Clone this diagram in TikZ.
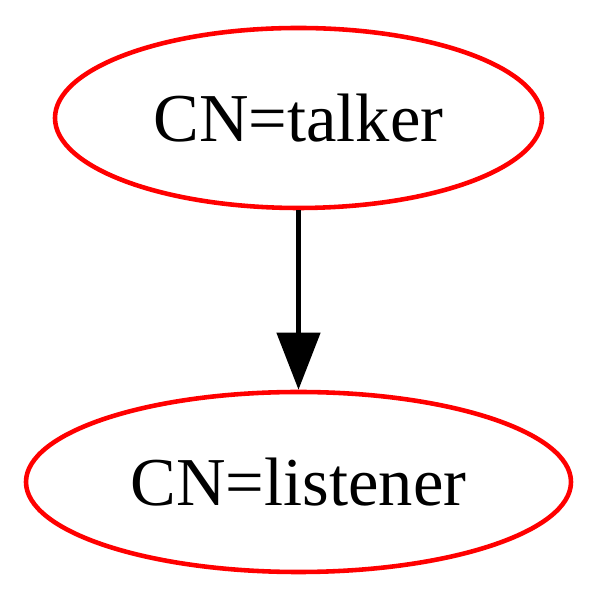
\documentclass[tikz,border=0pt]{standalone}
\usepackage{fontspec}
\setmainfont{Liberation Serif}
\usepackage{tikz}
\usetikzlibrary{arrows.meta, positioning, shapes.geometric}
\tikzset{
  cnnode/.style = {ellipse, draw=red, line width=2.6pt, inner sep=0pt,
                   minimum height=3.6cm, font=\fontsize{39}{44}\selectfont},
  arr/.style    = {-{Triangle[length=1.14cm, width=0.86cm]}, line width=2.6pt},
}
\begin{document}
\begin{tikzpicture}
  \useasboundingbox (0,0) rectangle (11.96,11.96);
  \node[cnnode, minimum width=9.74cm]  (talker)   at (5.97,9.6)  {CN=talker};
  \node[cnnode, minimum width=10.9cm]  (listener) at (5.97,2.32) {CN=listener};
  \draw[arr] (talker) -- (listener);
\end{tikzpicture}
\end{document}
